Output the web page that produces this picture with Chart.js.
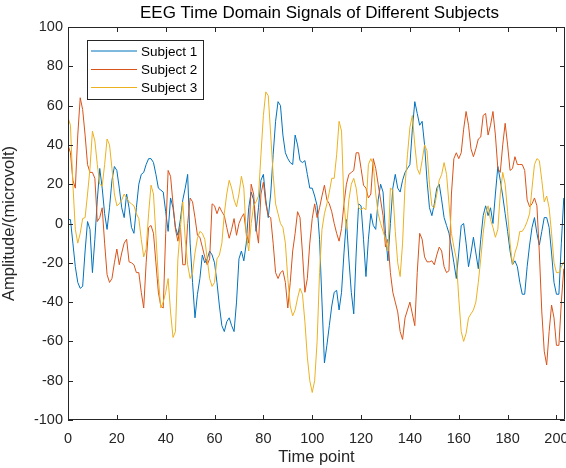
<!DOCTYPE html>
<html>
<head>
<meta charset="utf-8">
<title>EEG Time Domain Signals</title>
<script src="https://cdn.jsdelivr.net/npm/chart.js@4.4.1/dist/chart.umd.min.js"></script>
<style>
    html, body { margin: 0; padding: 0; background: #ffffff; }
    #wrap { width: 566px; height: 468px; }
</style>
</head>
<body>
<div id="wrap"><canvas id="eegChart" width="566" height="468"></canvas></div>
<script>
const chartTitle = "EEG Time Domain Signals of Different Subjects";
const seriesNames = ["Subject 1", "Subject 2", "Subject 3"];
const seriesColors = ["#0072BD", "#D95319", "#EDB120"];
const xTicks = [0, 20, 40, 60, 80, 100, 120, 140, 160, 180, 200];
const yTicks = [-100, -80, -60, -40, -20, 0, 20, 40, 60, 80, 100];

// values, one per time point (0..203)
const subject1 = [
    2, 2, -10, -22, -30, -33, -32, -14, 1, -3,
    -25, -8, 12, 28, 18, 5, -3, 8, 22, 29,
    27, 18, 8, 3, 15, 8, -2, -5, 8, 20,
    25, 26, 30, 33, 33, 31, 25, 18, 17, 16,
    6, -4, 13, 8, -2, -6, 2, 12, 18, 25,
    -10, -30, -48, -36, -28, -16, -20, -18, -14, -16,
    -20, -30, -42, -52, -55, -50, -48, -52, -55, -40,
    -18, -14, -19, -10, 8, 16, 12, -4, 8, 22,
    25, 12, 3, 15, 35, 52, 62, 60, 45, 36,
    33, 31, 30, 45, 40, 32, 31, 32, 25, 18,
    18, 14, 9, -8, -40, -71, -62, -52, -42, -35,
    -34, -44, -35, -15, 2, -18, -35, -46, -15, 10,
    9, -8, -27, -8, 5, -1, -3, 12, 20, 16,
    -5, -19, 0, 18, 25, 18, 16, 22, 26, 28,
    30, 48, 62, 56, 50, 52, 40, 22, 8, 4,
    10, 18, 20, 12, 3, -1, -5, -12, -20, -28,
    -15, -1, 0, -10, -22, -15, -7, -15, -23, -8,
    4, 9, 4, 8, 0, 15, 29, 22, 14, 5,
    -4, -14, -21, -19, -22, -30, -36, -36, -22, -11,
    -2, 3, -5, -11, -4, 3, 3, -2, -15, -30,
    -36, -36, -10, 13
];
const subject2 = [
    40, 36, 22, 18, 45, 64, 58, 45, 30, 26,
    26, 23, 1, 3, 8, -10, -26, -30, -28, -20,
    -13, -21, -15, -10, -8, -19.5, -20, -21, -25, -25,
    -35, -43, -20, -2, -1, -5, -20, -35, -42, -43,
    -5, 27, 24, 10, -3, -9, -1, -21, -21, 0,
    13, 11, 3, -6, -7, -12, -17, -21, -18, 10,
    9, 5, 8.5, 6, 4, -2, -7.5, -3, 2.5, -6,
    0, 3, 5, -5, -10, 20, 15, -2, -10, 15,
    21, 10, 4, 3, -10, -25, -28, -25, -24, -30,
    -43, -30, -14, -5, 6, 3, -15, -35, -28, -10,
    2.5, 10, 3, 8, 14, 19.5, 12, 10, 6, 0,
    -5, -9, -2.5, 10, 20, 25, 26, 27, 36, 36,
    28, 19.5, 18, 13, 15, 33, 28, 20, 12, 4,
    -12, -8, -25, -35, -40, -45, -55, -59, -48, -44,
    -40, -46, -52, -25, -5, -8, -17, -19.5, -19.5, -19,
    -21, -16, -12, -14, -22, -25, -24, 15, 33, 36,
    33, 36, 48, 57, 50, 38, 34, 38, 43, 44,
    55, 56, 45, 50, 57, 45, 28, 26, 40, 51,
    40, 27, 28, 34, 30, 30, 30, 27, 12, 8.5,
    10, 13, 9, -15, -45, -65, -72, -55, -41.5, -48,
    -62, -62, -40, -23
];
const subject3 = [
    54, 50, 20, -3, -10, -5, 2.5, 3, 15, 28,
    47, 42, 30, 20, 19, 30, 43, 40, 28, 15,
    9, 10, 12, 15, 13, 11, 10, 9, 5, 2.5,
    -8, -17, -13, 5, 19.5, 15, -6, -28, -43, -40,
    -35, -28, -45, -58, -55, -18, -2.5, 11, -8, -21,
    -28, -25, -15, -7.5, -4, -5, -8, -18, -28, -32,
    -30, -18, -16, -10, 5, 15, 22, 18, 12, 8.5,
    15, 24, 18, -6, -14, 0, 9, 11, 14, 35,
    55, 67, 65, 45, 25, 10, 5, 0, -2, -10,
    -28, -42, -47, -44, -38, -33, -36, -50, -68, -80,
    -86, -80, -60, -25, -3, 5, 10, 16, 23, 23,
    35, 52, 47, 10, -3, 12, 20, 23, 18, 8,
    7, 8, 7, 30, 33, 30, 15, 5, 0, -4,
    -8, -14, 18, 17, -4, -20, -27, -10, 19.5, 35,
    49, 55, 40, 28, 25, 32, 40, 37, 20, 9,
    8, 15, 22, 25, 31, 25, 10, -5, -12, -18,
    -38, -55, -60, -56, -48, -46, -44, -40, -30, -18,
    -5, 5, 9, 2, -2, -7, -3, 15, 26, 20,
    6, -10, -21, -15, -11, -4, -4, -2, 1, 5,
    18, 30, 33, 32, 22, 11, 14, 8, -5, -20,
    -25, -25, -22, -19.5
];

const FONT = "'Liberation Sans', Arial, Helvetica, sans-serif";
const AXIS_COLOR = "#262626";

function toPoints(values) {
    return values.map((v, i) => ({ x: i, y: v }));
}

// MATLAB-like frame: box, inward ticks, title and legend
const matlabFrame = {
    id: "matlabFrame",
    afterDraw(chart) {
        const { ctx, chartArea: a, scales } = chart;
        ctx.save();
        ctx.strokeStyle = AXIS_COLOR;
        ctx.lineWidth = 1;
        ctx.beginPath();
        ctx.rect(Math.round(a.left) + 0.5, Math.round(a.top) + 0.5,
            Math.round(a.right - a.left) - 1, Math.round(a.bottom - a.top) - 1);
        ctx.stroke();

        const tl = 5;
        ctx.beginPath();
        xTicks.forEach(v => {
            const px = Math.round(scales.x.getPixelForValue(v)) + 0.5;
            ctx.moveTo(px, a.bottom); ctx.lineTo(px, a.bottom - tl);
            ctx.moveTo(px, a.top); ctx.lineTo(px, a.top + tl);
        });
        yTicks.forEach(v => {
            const py = Math.round(scales.y.getPixelForValue(v)) + 0.5;
            ctx.moveTo(a.left, py); ctx.lineTo(a.left + tl, py);
            ctx.moveTo(a.right, py); ctx.lineTo(a.right - tl, py);
        });
        ctx.stroke();

        // title
        ctx.fillStyle = "#000000";
        ctx.font = "17px " + FONT;
        ctx.textAlign = "center";
        ctx.textBaseline = "middle";
        ctx.fillText(chartTitle, (a.left + a.right) / 2 + 3, 13);

        // legend
        const box = { x: 87, y: 40, w: 116, h: 59 };
        ctx.fillStyle = "#ffffff";
        ctx.fillRect(box.x, box.y, box.w, box.h);
        ctx.strokeStyle = AXIS_COLOR;
        ctx.strokeRect(box.x + 0.5, box.y + 0.5, box.w, box.h);
        ctx.font = "13.5px " + FONT;
        ctx.textAlign = "left";
        const rows = [51, 69.5, 87.5];
        seriesNames.forEach((name, i) => {
            ctx.strokeStyle = seriesColors[i];
            ctx.beginPath();
            ctx.moveTo(91, rows[i]);
            ctx.lineTo(137, rows[i]);
            ctx.stroke();
            ctx.fillStyle = "#000000";
            ctx.fillText(name, 141, rows[i] + 1);
        });
        ctx.restore();
    }
};

const ctx = document.getElementById("eegChart");
new Chart(ctx, {
    type: "line",
    data: {
        datasets: [subject1, subject2, subject3].map((values, i) => ({
            label: seriesNames[i],
            data: toPoints(values),
            borderColor: seriesColors[i],
            backgroundColor: seriesColors[i],
            borderWidth: 1,
            pointRadius: 0,
            tension: 0,
            fill: false
        })).reverse()
    },
    options: {
        responsive: false,
        animation: false,
        layout: { padding: { top: 27, right: 1, left: 0, bottom: 0 } },
        plugins: {
            legend: { display: false },
            tooltip: { enabled: false },
            title: { display: false }
        },
        scales: {
            x: {
                type: "linear",
                min: 0,
                max: 203.5,
                grid: { display: false, drawTicks: false },
                border: { display: false },
                afterBuildTicks: scale => { scale.ticks = xTicks.map(v => ({ value: v })); },
                ticks: { color: AXIS_COLOR, padding: 10, maxRotation: 0, font: { family: FONT, size: 14.5 } },
                title: {
                    display: true, text: "Time point", color: AXIS_COLOR,
                    font: { family: FONT, size: 16.5 }, padding: { top: 0, bottom: 1 }
                },
                afterFit: scale => {
                    scale.height = 48;
                    scale.paddingLeft = 0;
                    scale.paddingRight = 0;
                }
            },
            y: {
                min: -100,
                max: 100,
                grid: { display: false, drawTicks: false },
                border: { display: false },
                afterBuildTicks: scale => { scale.ticks = yTicks.map(v => ({ value: v })); },
                ticks: { color: AXIS_COLOR, padding: 5, font: { family: FONT, size: 14.5 } },
                title: {
                    display: true, text: "Amplitude/(microvolt)", color: AXIS_COLOR,
                    font: { family: FONT, size: 16.5 }, padding: { top: 0, bottom: 0 }
                },
                afterFit: scale => {
                    scale.width = 68;
                    scale.paddingTop = 0;
                    scale.paddingBottom = 0;
                }
            }
        }
    },
    plugins: [matlabFrame]
});
</script>
</body>
</html>
